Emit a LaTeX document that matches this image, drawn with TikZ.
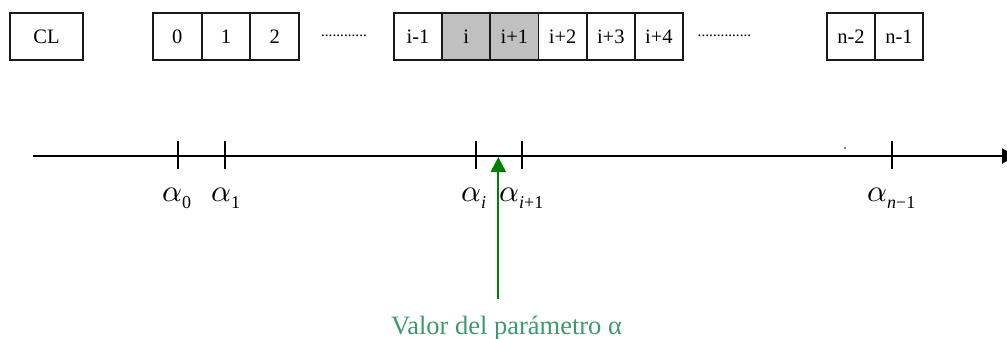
\documentclass[tikz,border=0pt]{standalone}
\usepackage{fontspec}
\setmainfont{Liberation Serif}
\usetikzlibrary{arrows.meta}
\definecolor{cellgray}{RGB}{192,192,192}
\definecolor{arrowgreen}{RGB}{0,128,0}
\definecolor{txtgreen}{RGB}{60,155,105}
\newcommand\alab[1]{\scalebox{3.1}{$\alpha$}\raisebox{-7pt}{\fontsize{18}{18}\selectfont #1}}
\begin{document}
\begin{tikzpicture}[x=1pt,y=-1pt,
  cell/.style={draw=black!90,line width=1.8pt,minimum height=47pt,inner sep=0pt,
    font=\fontsize{20.5}{20.5}\selectfont},
  shaded/.style={cell,fill=cellgray},
  dotsline/.style={anchor=base,inner sep=0pt,font=\fontsize{15.3}{15.3}\selectfont},
  ticklab/.style={anchor=base west,inner sep=0pt},
  tickline/.style={line width=1.8pt,black},
  axisline/.style={line width=2pt,black,-{Triangle[length=14pt,width=15pt]}},
  garrow/.style={line width=2pt,arrowgreen,-{Triangle[length=15pt,width=15pt]}}]
\useasboundingbox (0,0) rectangle (1007,338);
% cells
\node[cell,minimum width=73pt] (cl) at (46.5,36.5) {CL};
\node[cell,minimum width=48.67pt] (c0) at (177.3,36.5) {0};
\node[cell,minimum width=48.67pt] (c1) at (226,36.5) {1};
\node[cell,minimum width=48.67pt] (c2) at (274.7,36.5) {2};
\node[dotsline] (d1) at (344,36.5) {............};
\node[cell,minimum width=48.17pt] (cim1) at (418.1,36.5) {i-1};
\node[shaded,minimum width=48.17pt] (ci) at (466.25,36.5) {i};
\node[shaded,minimum width=48.17pt] (cip1) at (514.4,36.5) {i+1};
\node[cell,minimum width=48.17pt] (cip2) at (562.6,36.5) {i+2};
\node[cell,minimum width=48.17pt] (cip3) at (610.75,36.5) {i+3};
\node[cell,minimum width=48.17pt] (cip4) at (658.9,36.5) {i+4};
\node[dotsline] (d2) at (724.5,36.5) {..............};
\node[cell,minimum width=48pt] (cnm2) at (851,36.5) {n-2};
\node[cell,minimum width=48pt] (cnm1) at (899,36.5) {n-1};
% axis
\coordinate (a0) at (33,156);
\coordinate (a1) at (1016,156);
\draw[axisline] (a0) -- (a1);
% ticks
\foreach \n/\x in {t0/178.3,t1/225,ti/475.7,tip/521.7,tn/891.7}{
  \coordinate (\n top) at (\x,141);
  \coordinate (\n bot) at (\x,168.5);
  \draw[tickline] (\n top) -- (\n bot);
}
\fill (845,148) circle (0.9pt);
% labels
\node[ticklab] (l0) at (162,201) {\alab{0}};
\node[ticklab] (l1) at (211,201) {\alab{1}};
\node[ticklab] (li) at (461,201) {\alab{\itshape i}};
\node[ticklab] (lip) at (499,201) {\alab{\itshape i\upshape +1}};
\node[ticklab] (ln) at (867,201) {\alab{\itshape n\upshape −1}};
% green arrow
\coordinate (gb) at (498.3,299);
\coordinate (gt) at (498.3,157);
\draw[garrow] (gb) -- (gt);
\node[anchor=base,inner sep=0pt,text=txtgreen,font=\fontsize{26.5}{26.5}\selectfont] (val) at (506.5,334) {Valor del parámetro α};
\end{tikzpicture}
\end{document}
